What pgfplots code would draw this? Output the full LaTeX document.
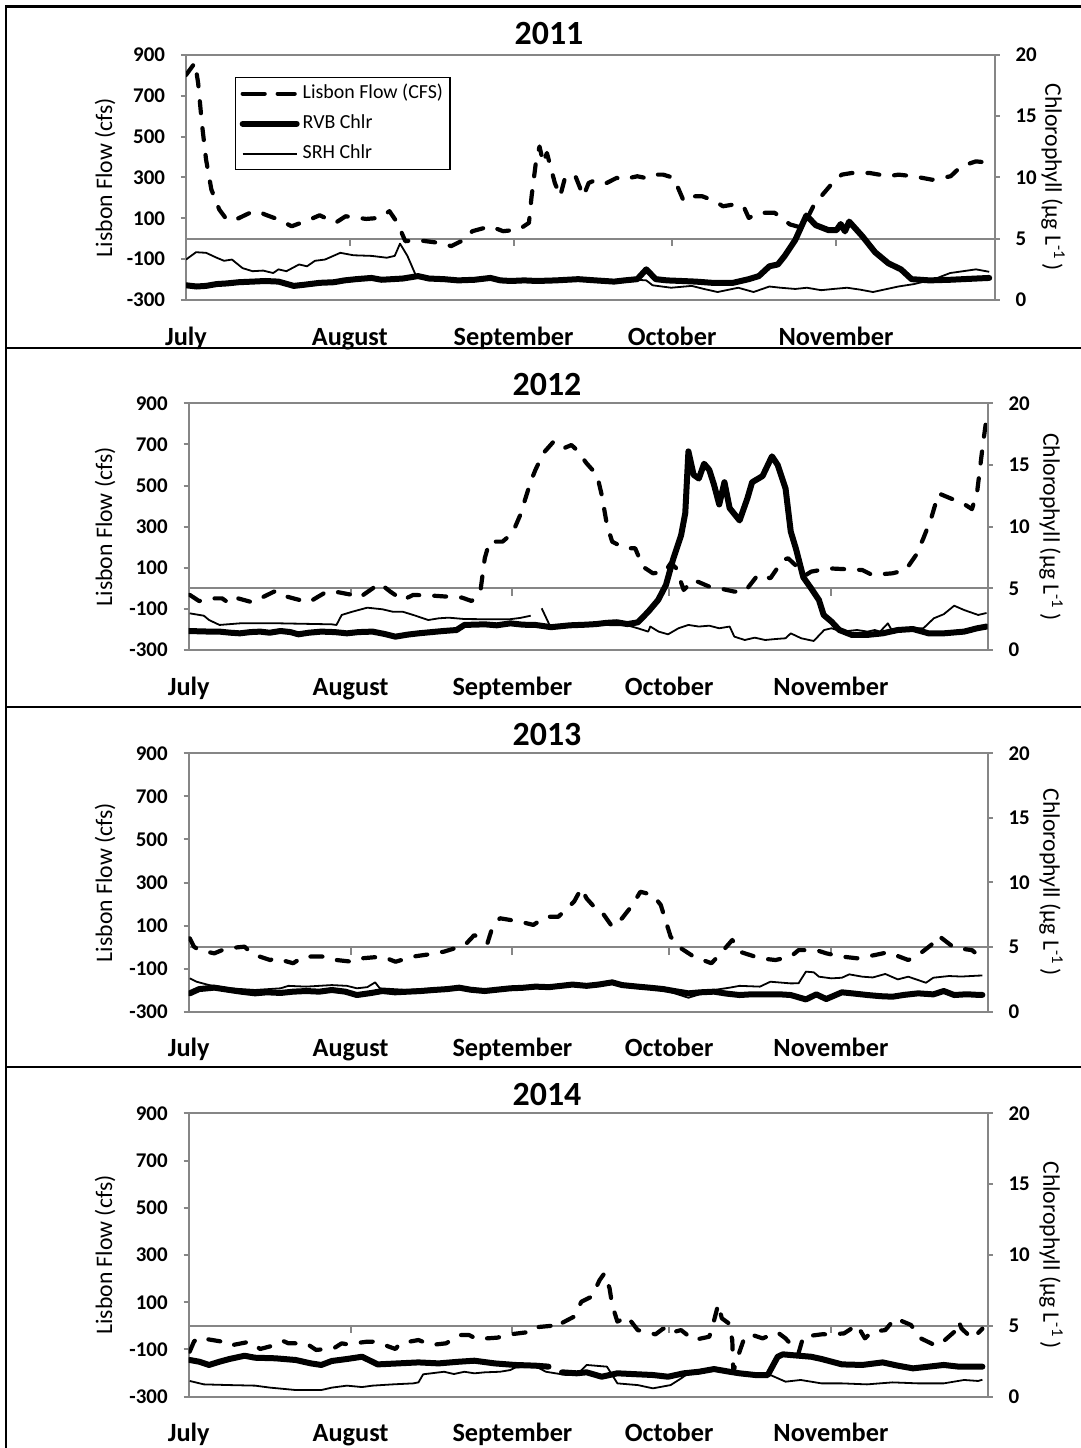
\documentclass[border=0pt]{standalone}
\usepackage{pgfplots}
\pgfplotsset{compat=1.18}
\usepackage{fontspec}
\setmainfont{Carlito}
\definecolor{axgray}{RGB}{134,134,134}
\tikzset{
 flow/.style={black, line width=2.1bp, dash pattern=on 6bp off 7.5bp, line cap=round, line join=round},
 rvb/.style={black, line width=3bp, line cap=round, line join=round},
 srh/.style={black, line width=0.9bp, line join=round},
}
\pgfplotsset{
 leftax/.style={
  scale only axis, anchor=south west,
  xmin=0, xmax=153, ymin=-300, ymax=900,
  ytick={-300,-100,...,900},
  xtick={0,31,62,92,123},
  xticklabels={July,August,September,October,November},
  ytick pos=left, xtick pos=bottom,
  tick align=outside, major tick length=2.6bp,
  major x tick style={draw=none},
  axis line style={axgray, line width=1bp},
  tick style={axgray, line width=1bp},
  /pgf/number format/assume math mode=true,
  y tick label style={font=\fontsize{10.5}{12}\selectfont\bfseries, inner sep=0pt, xshift=-7.7bp},
  x tick label style={font=\fontsize{13.2}{15}\selectfont\bfseries, anchor=base, inner sep=0pt, yshift=-20bp},
  ylabel={Lisbon Flow (cfs)},
  unbounded coords=jump,
 },
 rightax/.style={
  scale only axis, anchor=south west,
  xmin=0, xmax=153, ymin=0, ymax=20,
  axis x line=none, axis y line*=right,
  ytick={0,5,...,20},
  tick align=outside, major tick length=2.6bp,
  axis line style={axgray, line width=1bp},
  tick style={axgray, line width=1bp},
  /pgf/number format/assume math mode=true,
  y tick label style={font=\fontsize{10.5}{12}\selectfont\bfseries, inner sep=0pt, xshift=7.7bp},
  ylabel={Chlorophyll (µg L\textsuperscript{-1}\,)},
  unbounded coords=jump,
 },
 lylab/.style={every axis y label/.style={at={(axis description cs:#1,0.5)}, rotate=90, anchor=center, font=\fontsize{11.9}{14}\selectfont}},
 rylab/.style={every axis y label/.style={at={(axis description cs:#1,0.5)}, rotate=-90, anchor=center, font=\fontsize{11.9}{14}\selectfont}},
}
\newcommand{\zeroline}{%
 \draw[axgray, line width=1bp] (axis cs:0,0) -- (axis cs:153,0);
 \pgfplotsinvokeforeach{31,62,92,123}{\draw[axgray, line width=1bp] (axis cs:##1,0) -- ([yshift=-3.8bp]axis cs:##1,0);}%
}
\begin{document}
\begin{tikzpicture}
% frame
\draw[black, line width=1.2bp] (3.1bp,0) -- (3.1bp,720.65bp) -- (540.5bp,720.65bp);
\draw[black, line width=1.2bp] (3.1bp,550bp) -- (540.5bp,550bp);
\draw[black, line width=1.2bp] (3.1bp,370.5bp) -- (540.5bp,370.5bp);
\draw[black, line width=1.2bp] (3.1bp,190.5bp) -- (540.5bp,190.5bp);
\node[font=\fontsize{17}{20}\selectfont\bfseries] at (274.5bp,707bp) {2011};
\node[font=\fontsize{17}{20}\selectfont\bfseries] at (273.5bp,531.5bp) {2012};
\node[font=\fontsize{17}{20}\selectfont\bfseries] at (273.5bp,356.5bp) {2013};
\node[font=\fontsize{17}{20}\selectfont\bfseries] at (273.5bp,176.5bp) {2014};

% ---------- 2011 ----------
\begin{axis}[leftax, lylab=-0.1002, at={(93bp,574bp)}, width=404.25bp, height=122.5bp]
\zeroline
\addplot[flow] coordinates {(0,802) (1.7,862) (2.3,762) (3,566) (3.8,387) (4.8,241) (6.3,143) (7.7,94) (9.2,91) (12.1,127) (13.6,135) (15,118) (17.5,94) (20,61) (23.4,94) (25.3,115) (28.3,78) (30.2,110) (34.1,97) (36.6,102) (38.5,135) (40,78) (41.5,-12) (43.9,-7) (47.8,-20) (50.2,-36) (52.7,-4) (54.2,37) (57.6,61) (60,37) (63,45) (64.9,78) (65.4,208) (66.2,371) (66.9,452) (67.6,371) (68.3,420) (69.8,273) (70.8,208) (71.8,306) (73.7,306) (75.2,208) (76.2,273) (77.6,289) (79.6,273) (81.5,298) (83,289) (84,298) (85.4,306) (86.9,298) (88.4,314) (90.3,314) (92.3,298) (94.2,184) (96.2,208) (97.7,208) (100.1,184) (101.6,159) (103.5,167) (105.5,159) (106.5,102) (108.4,127) (111.4,127) (114.3,70) (116.7,53) (118.7,159) (120.2,208) (122.6,281) (124.1,314) (126,322) (129.4,322) (132.9,306) (134.8,314) (137.7,306) (141.2,289) (144.7,306) (146.7,355) (149.5,379) (151,375)};
\end{axis}
\begin{axis}[rightax, rylab=1.0724, at={(93bp,574bp)}, width=404.25bp, height=122.5bp,
  legend style={at={(rel axis cs:0.0606,0.910)}, anchor=north west, draw=black, line width=0.7bp, fill=white, font=\fontsize{10}{12}\selectfont, inner xsep=2bp, inner ysep=1.5bp, row sep=2bp, nodes={inner sep=1.5bp, text height=7.5bp, text depth=2.5bp}},
  legend cell align=left,
  legend image code/.code={\draw[#1] (0bp,0bp) -- (27bp,0bp);}]
\addlegendimage{flow, legend image code/.code={\draw[flow, dash pattern=on 11bp off 6.5bp] (0bp,0bp) -- (26bp,0bp);}}
\addlegendentry{Lisbon Flow (CFS)}
\addplot[rvb] coordinates {(0,1.2) (2,1.1) (3.8,1.15) (5.8,1.3) (7.7,1.35) (10,1.45) (12.6,1.5) (15,1.55) (17.5,1.5) (20.4,1.15) (22.5,1.25) (25.3,1.4) (28,1.45) (30,1.6) (32.2,1.7) (35.1,1.8) (37,1.65) (39,1.7) (41,1.75) (43.9,1.95) (46,1.75) (48.8,1.7) (51.5,1.6) (54.6,1.65) (57.6,1.8) (59.5,1.6) (61.5,1.55) (64,1.6) (66.4,1.55) (70,1.6) (74.2,1.7) (77.5,1.6) (81,1.5) (83,1.6) (85.4,1.7) (87.1,2.5) (88.9,1.7) (91,1.6) (93.8,1.55) (96.5,1.5) (99.6,1.4) (103.5,1.4) (106.5,1.7) (108.4,1.95) (110.4,2.75) (112,2.9) (113.3,3.6) (115.3,4.9) (117.4,6.9) (119.2,6.1) (121.6,5.7) (123.1,5.7) (123.9,6.2) (124.7,5.6) (125.5,6.4) (128,5.2) (130.4,3.9) (132.9,3.0) (135.3,2.5) (137.3,1.7) (140.7,1.6) (144.6,1.65) (149.5,1.75) (152,1.8)};
\addlegendentry{RVB Chlr}
\addplot[srh] coordinates {(0,3.3) (1.9,3.9) (3.8,3.85) (5.8,3.45) (7.2,3.2) (8.7,3.3) (10.7,2.6) (12.6,2.35) (14.6,2.4) (16.5,2.2) (17.5,2.5) (19,2.35) (21.4,2.9) (22.9,2.75) (24.4,3.2) (26.3,3.3) (29.2,3.85) (31.7,3.65) (35.1,3.6) (38,3.45) (39.5,3.6) (40.5,4.6) (41.9,3.6) (43.4,2.1) (43.9,1.8) (48.8,1.7) (54.6,1.6) (57.6,1.75) (61.5,1.5) (66.4,1.5) (74.2,1.65) (81,1.45) (85.4,1.65) (87.1,1.6) (88.3,1.2) (91.8,1.0) (95.7,1.15) (98,0.9) (100.6,0.65) (104.5,1.0) (107.4,0.65) (110.4,1.1) (112.5,1.0) (115.3,0.9) (117.5,1.0) (120.2,0.8) (122.5,0.9) (125.1,1.0) (127.5,0.85) (130,0.65) (134.8,1.1) (137.8,1.3) (141.6,1.7) (144.6,2.2) (149.5,2.5) (152,2.3)};
\addlegendentry{SRH Chlr}
\end{axis}

% ---------- 2012 ----------
\begin{axis}[leftax, lylab=-0.1048, at={(94.35bp,399bp)}, width=399.45bp, height=123.35bp]
\zeroline
\addplot[flow] coordinates {(0.2,-32) (2,-62) (3.9,-49) (6.4,-49) (7.3,-65) (8.3,-41) (12.2,-68) (13.7,-49) (16.6,-13) (17.6,-32) (20.5,-52) (23,-68) (25.9,-24) (27.4,-13) (31.3,-32) (32.7,-45) (36.6,24) (38.6,-16) (41,-57) (43,-32) (46.9,-36) (49.8,-41) (52.3,-45) (54.2,-62) (55.9,-8) (56.7,146) (57.6,227) (60.1,227) (62,268) (63.5,357) (65.5,519) (66.4,576) (67.9,657) (69.9,714) (71.8,681) (73.3,697) (74.3,673) (76.2,608) (78.2,551) (79.1,454) (80.1,308) (81.1,227) (83.5,195) (85.5,195) (87,105) (88.9,73) (91.2,80) (92.3,122) (93.3,100) (94.8,-8) (96.7,41) (99.7,8) (101.6,0) (104.5,-16) (106.5,-16) (109,65) (111.4,49) (113.8,138) (114.8,146) (118.2,65) (119.2,81) (122.6,97) (125,94) (129,89) (130.9,65) (134.8,73) (137.3,89) (139.3,162) (140.7,243) (142.2,341) (143.6,462) (145.1,446) (148.5,410) (150,385) (151,470) (152,680) (152.8,830)};
\end{axis}
\begin{axis}[rightax, rylab=1.0794, at={(94.35bp,399bp)}, width=399.45bp, height=123.35bp]
\addplot[rvb] coordinates {(0,1.54) (3,1.5) (5.9,1.49) (8,1.4) (9.8,1.35) (11.8,1.45) (13.7,1.49) (15.5,1.4) (17.6,1.54) (19.5,1.45) (21,1.27) (23,1.4) (25.4,1.49) (28,1.45) (30.3,1.35) (32.5,1.45) (35.2,1.49) (37.5,1.3) (39.6,1.08) (42,1.25) (44,1.35) (46.5,1.45) (48.8,1.54) (51.3,1.62) (52.8,2.03) (56.7,2.08) (59,2.0) (61.6,2.16) (64,2.05) (66.4,2.03) (69.4,1.85) (73,2.0) (76,2.05) (78,2.1) (80,2.2) (82,2.25) (84,2.1) (86,2.24) (88,3.1) (89.9,4.05) (91.4,5.27) (92.8,7.4) (94.3,9.3) (95.1,11.1) (95.7,16.1) (96.7,14.2) (97.7,13.9) (98.7,15.1) (99.7,14.6) (100.6,13.4) (101.6,11.8) (102.6,13.6) (103.6,11.5) (105.5,10.5) (107,12.3) (107.9,13.6) (109.9,14.1) (111.7,15.7) (112.8,15) (114.3,13.1) (115.3,9.6) (116.3,8.2) (117.7,5.9) (119.2,5) (120.7,4.05) (121.6,2.84) (123.1,2.3) (124.6,1.62) (127,1.22) (129.9,1.22) (132.9,1.35) (135.8,1.62) (138.7,1.7) (141.7,1.35) (144.6,1.35) (148.5,1.49) (151,1.76) (152.8,1.9)};
\addplot[srh] coordinates {(0.2,2.97) (2.9,2.78) (3.9,2.43) (5.9,2.03) (9.8,2.16) (17.6,2.16) (27.4,2.08) (28.3,2.03) (29.3,2.84) (31.3,3.1) (34.2,3.43) (37.1,3.3) (39.1,3.1) (41,3.1) (43,2.84) (45.9,2.43) (47.9,2.57) (49.8,2.62) (52.8,2.51) (57.6,2.49) (61.6,2.5) (63.5,2.6) (65.5,2.78) (66.5,nan) (67.6,3.38) (69.4,1.76) (73,1.95) (78,2.05) (82,2.0) (84,2.0) (86,1.76) (88,1.49) (88.4,1.9) (90,1.49) (91.8,1.27) (93.8,1.76) (95.7,2.03) (97.7,1.9) (99.7,1.97) (101.6,1.76) (103.6,1.9) (104.5,1.08) (106.5,0.81) (108.4,1.0) (110.4,0.81) (112.4,0.89) (114.3,0.95) (115.3,1.35) (117.3,0.95) (119.7,0.73) (121.7,1.62) (123.1,1.76) (125.1,1.49) (128,1.62) (130,1.49) (131.4,1.62) (132.4,1.49) (133.9,2.16) (134.8,1.49) (136.8,1.62) (138.7,1.76) (140.7,1.76) (142.7,2.57) (144.6,2.9) (146.6,3.59) (148.5,3.24) (151.2,2.84) (152.8,3.0)};
\end{axis}

% ---------- 2013 ----------
\begin{axis}[leftax, lylab=-0.1048, at={(94.35bp,218.15bp)}, width=399.45bp, height=129.2bp]
\zeroline
\addplot[flow] coordinates {(0.2,41) (1,2) (2,-14) (4.9,-29) (6.4,-14) (7.3,-6) (10.7,2) (11.7,-21) (12.7,-37) (15.6,-60) (16.6,-52) (20,-75) (22,-44) (26.4,-44) (28.3,-60) (31.3,-68) (33.2,-52) (37.1,-44) (39.6,-68) (43,-44) (45.9,-34) (48.9,-21) (51.3,-3) (52.8,7) (54.7,56) (57.2,17) (58.1,87) (59.6,134) (63.5,118) (66,103) (68.4,141) (70.8,141) (73.8,211) (75.2,273) (76.2,226) (78.2,172) (79.1,164) (81.1,95) (83,134) (85,196) (86.5,257) (88.9,242) (90.4,196) (91.4,118) (92.3,48) (94.3,-6) (96.7,-44) (100.1,-75) (101.6,-37) (104.1,33) (105.5,-21) (109.4,-52) (112.4,-60) (115.3,-44) (116.8,-14) (120.2,-14) (122.1,-29) (125.1,-44) (128,-52) (131.4,-37) (133.9,-24) (137.8,-60) (139.7,-37) (142.2,10) (143.6,53) (146.6,-3) (150,-14) (150.5,-24)};
\end{axis}
\begin{axis}[rightax, rylab=1.0794, at={(94.35bp,218.15bp)}, width=399.45bp, height=129.2bp]
\addplot[rvb] coordinates {(0.2,1.42) (2,1.75) (4.9,1.86) (7.8,1.68) (10,1.55) (12.7,1.42) (15,1.5) (17.6,1.45) (20,1.55) (22.5,1.6) (25,1.55) (27.4,1.68) (30,1.55) (32.2,1.29) (35,1.45) (37.1,1.6) (39.5,1.5) (42,1.55) (44.5,1.6) (46.9,1.68) (49.5,1.75) (51.8,1.86) (54,1.7) (56.7,1.6) (59,1.7) (61.6,1.81) (64,1.85) (66.4,1.94) (69,1.9) (71.3,2.0) (73.5,2.1) (76.2,2.0) (78.5,2.1) (81.1,2.27) (83,2.06) (86,1.94) (88.5,1.85) (90.9,1.75) (93,1.6) (95.7,1.42) (98,1.5) (100.6,1.55) (103,1.4) (105.5,1.29) (108,1.35) (110.4,1.34) (113,1.35) (115.3,1.29) (118.2,0.95) (120.2,1.34) (122.1,0.98) (125.1,1.5) (127.5,1.4) (130,1.29) (132.5,1.2) (134.8,1.16) (137,1.3) (139.7,1.42) (142.6,1.34) (144.6,1.6) (146.6,1.29) (149,1.35) (151.2,1.3) (152,1.3)};
\addplot[srh] coordinates {(0.2,2.58) (1.5,2.32) (3.9,2.06) (7.8,1.81) (12.7,1.68) (17.6,1.81) (19.1,2.0) (22.5,1.94) (27.4,2.06) (30.3,2.0) (32.2,1.81) (34.2,1.9) (35.7,2.27) (36.6,1.81) (42,1.68) (46.9,1.81) (51.8,1.86) (56.7,1.65) (61.6,1.85) (66.4,1.95) (71.3,2.05) (76.2,2.05) (81.1,2.2) (86,1.9) (90.9,1.7) (95.7,1.08) (100.6,1.68) (103.6,1.86) (105.5,2.0) (109.4,1.94) (111.4,2.32) (115.3,2.19) (116.8,2.2) (118.2,3.1) (119.7,3.05) (120.7,2.71) (123.1,2.58) (125.1,2.63) (126.5,2.89) (129,2.71) (131,2.65) (133.4,2.92) (135.8,2.5) (137.8,2.71) (141.2,2.24) (142.6,2.63) (145.6,2.76) (148,2.72) (151.2,2.79) (152,2.8)};
\end{axis}

% ---------- 2014 ----------
\begin{axis}[leftax, lylab=-0.1048, at={(94.35bp,25.65bp)}, width=399.45bp, height=141.7bp]
\zeroline
\addplot[flow] coordinates {(0.2,-109) (1,-67) (1.8,-50) (6.4,-67) (7.8,-84) (11.7,-67) (13.7,-98) (16.6,-81) (18.1,-64) (19.1,-74) (22.5,-74) (24.4,-102) (27.8,-95) (29.3,-74) (30.3,-78) (34.2,-67) (35.7,-67) (39.6,-98) (40.5,-74) (44,-60) (46.4,-81) (49.3,-74) (51.8,-39) (53.7,-39) (55.2,-56) (59.1,-50) (61.6,-36) (64.5,-28) (65.5,-8) (69.4,0) (70.3,-11) (71.3,10) (73.8,39) (75.2,102) (77.2,124) (78.7,194) (79.6,222) (80.6,159) (81.1,88) (82.1,18) (84,39) (86,-18) (89.4,-36) (90.9,-11) (91.8,-32) (94.3,-18) (96.7,-60) (99.7,-46) (100.4,4) (101.4,91) (102.1,32) (103.4,11) (104.1,-60) (104.3,-194) (105.5,-109) (106.5,-46) (108,-39) (109.9,-53) (112.8,-28) (114.3,-53) (116.8,-115) (117.7,-46) (121.2,-36) (123.1,-36) (125.5,-32) (128,4) (129.5,-53) (130.9,-25) (133.4,-18) (135.3,32) (138.3,4) (140.2,-53) (143.1,-84) (144.1,-74) (147,-18) (147.5,18) (148,-11) (150,-53) (151.2,-30) (152,-12)};
\end{axis}
\begin{axis}[rightax, rylab=1.0794, at={(94.35bp,25.65bp)}, width=399.45bp, height=141.7bp]
\addplot[rvb] coordinates {(0.2,2.59) (2,2.47) (3.9,2.24) (5.9,2.47) (7.8,2.66) (10.7,2.89) (12.7,2.75) (16.6,2.71) (20.5,2.59) (23.4,2.35) (25.4,2.24) (27.4,2.52) (30.3,2.66) (33.2,2.82) (36.2,2.28) (40.1,2.35) (44,2.42) (47.9,2.35) (51.8,2.47) (54.7,2.54) (58.6,2.35) (62.5,2.24) (66.4,2.19) (68.9,2.12) (70.2,nan) (71.5,1.72) (74.3,1.65) (76.2,1.72) (79.1,1.41) (82.1,1.65) (86,1.58) (88.9,1.53) (91.8,1.41) (94.8,1.65) (97.7,1.76) (100.6,1.95) (103.6,1.76) (105.5,1.65) (108.5,1.53) (110.9,1.53) (112.8,2.82) (113.8,2.99) (115.3,2.94) (119.2,2.82) (121.2,2.66) (125.1,2.28) (129,2.24) (132.9,2.42) (135.8,2.19) (138.7,2.0) (141.7,2.12) (144.6,2.24) (147.5,2.12) (151.2,2.12) (152,2.12)};
\addplot[srh] coordinates {(0.2,1.11) (2.9,0.87) (7.8,0.82) (12.7,0.78) (15.6,0.64) (20.5,0.47) (25.4,0.47) (27.4,0.64) (30.3,0.78) (33.2,0.68) (35.2,0.78) (39.1,0.87) (43,0.94) (44,1.01) (44.9,1.58) (48.9,1.76) (50.8,1.6) (52.8,1.76) (54.7,1.65) (56.7,1.72) (59.6,1.76) (61.6,1.88) (62.5,2.05) (66.4,2.15) (68.4,1.76) (72.3,1.53) (74.5,1.6) (76.2,2.24) (80.1,2.12) (82.1,0.94) (86,0.82) (88.9,0.59) (92.3,0.82) (94.3,1.29) (95.7,1.65) (100.6,1.88) (105.5,1.65) (111.4,1.53) (114.3,1.06) (117.2,1.18) (121.2,0.94) (125.1,0.94) (129.9,0.87) (134.8,1.01) (139.7,0.94) (144.6,0.94) (148.5,1.18) (151.2,1.11) (152,1.2)};
\end{axis}
\pgfresetboundingbox
\path[use as bounding box] (0,0) rectangle (540.5bp,724bp);
\end{tikzpicture}
\end{document}
